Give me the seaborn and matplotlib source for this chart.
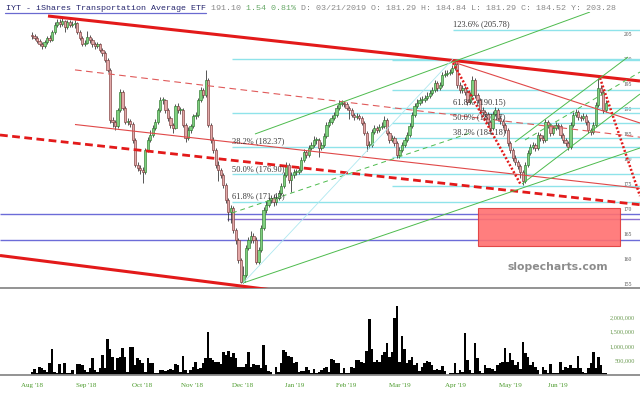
import numpy as np
import matplotlib
matplotlib.use("Agg")
import matplotlib.pyplot as plt
import seaborn as sns
from matplotlib.lines import Line2D
from matplotlib.patches import Rectangle

# ---------------- data ----------------
first_open = 204.8
closes = [
    204.6, 204.2, 203.6, 203.0, 202.6, 203.4, 204.2, 203.8, 205.4, 206.8,
    207.4, 207.0, 207.6, 206.4, 207.4, 206.8, 207.0, 207.2, 205.4, 204.2,
    203.0, 203.2, 204.4, 203.8, 203.0, 202.6, 203.0, 201.8, 201.2, 199.8,
    197.8, 187.8, 187.4, 186.6, 189.8, 193.4, 190.2, 187.4, 187.6, 187.0,
    183.8, 178.8, 178.2, 177.8, 177.4, 181.8, 183.8, 184.8, 186.2, 187.4,
    189.8, 191.8, 191.8, 189.8, 188.2, 186.8, 186.2, 190.6, 189.8, 189.8,
    186.8, 184.2, 185.8, 186.6, 188.6, 188.8, 191.8, 193.8, 192.8, 195.8,
    186.8, 183.8, 181.8, 178.8, 177.8, 176.8, 174.8, 171.8, 169.4, 170.2,
    165.8, 163.8, 159.8, 155.4, 156.8, 162.2, 163.8, 164.6, 163.8, 159.4,
    161.8, 166.2, 169.8, 170.8, 171.8, 172.2, 171.4, 172.2, 173.2, 174.6,
    176.8, 178.8, 175.8, 176.8, 177.4, 177.4, 177.8, 179.8, 181.4, 180.8,
    182.2, 182.8, 183.8, 183.8, 182.2, 182.8, 184.6, 186.8, 187.4, 188.2,
    188.8, 190.2, 191.0, 191.2, 191.0, 190.2, 189.8, 188.8, 188.4, 188.6,
    188.2, 187.2, 185.2, 182.8, 182.8, 185.4, 186.2, 185.8, 186.4, 186.6,
    187.8, 185.2, 183.8, 184.2, 183.2, 180.8, 181.8, 182.8, 183.8, 184.8,
    186.6, 188.8, 190.6, 191.2, 191.8, 191.8, 192.2, 192.6, 193.2, 193.8,
    195.2, 194.2, 194.8, 196.8, 197.0, 197.2, 197.4, 198.2, 199.0, 194.8,
    193.8, 194.2, 193.4, 191.4, 192.8, 195.8, 192.8, 191.8, 189.8, 189.4,
    189.0, 187.4, 186.2, 189.0, 189.8, 188.2, 187.6, 186.8, 185.8, 183.2,
    181.8, 180.2, 179.4, 178.6, 177.4, 175.6, 178.8, 181.2, 182.4, 182.8,
    182.2, 184.8, 184.2, 183.8, 187.4, 186.8, 185.2, 186.2, 186.8, 186.6,
    184.8, 183.8, 183.2, 182.4, 186.8, 188.8, 189.4, 188.4, 188.2, 188.6,
    187.4, 185.8, 185.4, 186.8, 190.8, 194.2, 193.4, 189.8, 191.1,
]
highs = [
    205.4, 205.0, 204.6, 204.0, 203.4, 203.8, 204.6, 204.8, 205.8, 207.4,
    208.0, 208.0, 208.2, 207.8, 207.8, 207.8, 207.6, 207.8, 207.4, 205.8,
    204.6, 203.8, 205.6, 204.8, 204.2, 203.4, 203.4, 203.2, 202.2, 201.6,
    200.2, 198.2, 188.4, 187.8, 190.2, 194.0, 193.8, 190.6, 188.2, 188.0,
    187.4, 184.2, 179.4, 178.8, 178.4, 182.2, 184.4, 185.8, 186.8, 188.0,
    190.2, 192.4, 192.4, 192.0, 190.2, 188.6, 187.2, 191.0, 191.2, 190.4,
    190.2, 187.2, 186.4, 187.0, 189.0, 189.4, 192.2, 194.4, 194.2, 197.8,
    196.2, 187.2, 184.4, 182.2, 179.6, 178.2, 177.2, 175.2, 172.2, 170.8,
    170.6, 166.2, 164.2, 160.2, 158.6, 162.8, 164.4, 165.6, 165.2, 164.4,
    162.4, 166.8, 170.4, 171.6, 172.4, 172.8, 173.0, 172.8, 173.8, 175.2,
    177.4, 179.4, 179.2, 177.4, 178.0, 178.0, 178.4, 180.4, 182.0, 181.8,
    182.8, 183.4, 184.6, 184.4, 184.2, 183.4, 185.2, 187.4, 188.0, 188.8,
    189.4, 190.8, 191.8, 191.8, 191.6, 191.4, 190.6, 190.2, 189.2, 189.2,
    189.0, 188.6, 187.6, 185.6, 183.6, 186.0, 186.8, 186.6, 187.0, 187.4,
    188.6, 188.2, 185.6, 184.8, 184.6, 183.6, 182.4, 183.4, 184.4, 185.4,
    187.2, 189.4, 191.2, 192.0, 192.4, 192.6, 192.8, 193.4, 193.8, 194.4,
    195.8, 195.6, 195.4, 197.4, 197.8, 197.8, 198.0, 198.8, 199.8, 199.4,
    195.4, 194.8, 194.6, 193.8, 193.4, 196.6, 196.2, 193.2, 192.2, 190.4,
    189.8, 189.4, 187.8, 189.6, 190.4, 190.2, 188.8, 188.0, 187.2, 186.2,
    183.6, 182.2, 180.8, 179.8, 179.0, 177.8, 179.4, 181.8, 183.0, 183.4,
    183.2, 185.4, 185.2, 184.8, 188.0, 187.8, 187.2, 186.8, 187.4, 187.2,
    187.0, 185.2, 184.2, 183.6, 187.4, 189.4, 190.0, 189.8, 188.8, 189.2,
    189.0, 187.8, 186.2, 187.4, 191.4, 196.2, 194.8, 193.8, 191.8,
]
lows = [
    204.0, 203.8, 203.2, 202.6, 202.0, 202.2, 203.0, 203.4, 203.6, 205.0,
    206.4, 206.4, 206.6, 205.4, 206.0, 206.4, 206.4, 206.2, 205.0, 203.8,
    202.6, 202.6, 203.0, 203.2, 202.4, 202.0, 202.2, 201.4, 200.6, 199.4,
    197.4, 187.2, 186.4, 185.8, 186.2, 189.4, 189.8, 187.0, 186.8, 186.4,
    183.2, 178.4, 177.6, 177.0, 175.2, 177.0, 181.4, 183.4, 184.4, 185.8,
    187.0, 189.4, 191.0, 189.2, 187.6, 186.2, 185.2, 186.0, 189.2, 189.0,
    186.4, 183.4, 183.8, 185.2, 186.2, 188.0, 188.4, 191.4, 192.2, 192.4,
    186.4, 183.2, 181.2, 178.2, 175.6, 176.2, 174.2, 171.2, 167.6, 167.2,
    165.2, 163.0, 159.2, 155.2, 155.2, 156.4, 161.8, 163.2, 163.2, 159.0,
    159.0, 161.4, 165.8, 169.2, 170.4, 171.2, 170.6, 170.8, 171.8, 172.8,
    174.2, 176.4, 175.2, 173.4, 176.2, 176.8, 177.0, 177.4, 179.4, 180.2,
    180.4, 181.8, 182.4, 183.0, 180.4, 181.8, 182.4, 184.2, 186.4, 187.0,
    187.8, 188.4, 189.8, 190.6, 190.4, 189.8, 188.0, 188.4, 187.8, 188.0,
    187.8, 186.8, 184.8, 181.6, 182.2, 182.4, 185.0, 185.2, 185.4, 186.0,
    186.2, 184.8, 183.2, 183.4, 182.6, 180.2, 180.2, 181.4, 182.4, 183.4,
    184.4, 186.2, 188.4, 190.2, 190.8, 191.2, 191.4, 191.8, 192.2, 192.8,
    193.4, 193.6, 193.8, 194.4, 196.4, 196.6, 196.8, 197.0, 197.8, 194.2,
    193.2, 193.2, 192.8, 190.8, 191.0, 192.4, 192.2, 191.2, 189.2, 188.8,
    188.4, 186.8, 185.4, 185.8, 188.6, 187.6, 187.0, 186.2, 185.2, 182.6,
    181.2, 179.6, 178.8, 178.0, 176.2, 174.8, 175.2, 178.4, 180.8, 182.0,
    181.6, 181.8, 183.6, 183.2, 183.4, 186.2, 184.6, 184.8, 185.8, 186.0,
    184.2, 183.2, 182.6, 181.8, 182.0, 186.4, 188.4, 187.8, 187.6, 187.8,
    186.8, 185.2, 184.8, 185.0, 186.4, 190.4, 192.8, 189.2, 189.4,
]
volumes_k = [
    115, 195, 80, 290, 230, 170, 115, 400, 885, 115,
    60, 380, 80, 400, 60, 60, 170, 0, 380, 380,
    345, 170, 115, 230, 600, 170, 115, 230, 690, 230,
    1230, 885, 630, 170, 575, 630, 920, 630, 115, 980,
    980, 345, 575, 520, 400, 115, 575, 400, 400, 80,
    60, 170, 170, 150, 170, 195, 170, 380, 345, 115,
    670, 170, 80, 170, 265, 460, 195, 230, 400, 575,
    1470, 600, 520, 460, 460, 370, 805, 690, 830, 630,
    750, 575, 265, 265, 265, 380, 805, 265, 380, 345,
    345, 230, 1030, 345, 150, 115, 0, 265, 115, 400,
    865, 805, 655, 630, 400, 460, 115, 150, 150, 265,
    170, 80, 195, 80, 115, 170, 230, 290, 115, 540,
    520, 400, 400, 60, 230, 60, 60, 265, 230, 520,
    520, 460, 400, 840, 1920, 900, 460, 520, 460, 690,
    805, 1120, 630, 805, 1950, 2380, 460, 1360, 885, 400,
    520, 630, 345, 400, 150, 290, 400, 490, 460, 345,
    170, 195, 170, 310, 150, 0, 60, 60, 400, 80,
    170, 115, 1440, 520, 170, 60, 1120, 575, 150, 80,
    345, 230, 230, 195, 150, 345, 400, 460, 920, 460,
    750, 520, 345, 460, 195, 1150, 750, 630, 345, 460,
    290, 170, 0, 265, 170, 80, 380, 60, 80, 80,
    460, 170, 290, 230, 345, 230, 230, 670, 230, 115,
    60, 230, 400, 805, 230, 630, 345, 80, 80,
]
month_labels = ["Aug '18", "Sep '18", "Oct '18", "Nov '18", "Dec '18", "Jan '19",
                "Feb '19", "Mar '19", "Apr '19", "May '19", "Jun '19"]
month_pos = [0, 21.5, 43.7, 63.6, 83.8, 104.5, 124.8, 146.2, 168.1, 190.0, 209.0]
price_ticks = [155, 160, 165, 170, 175, 180, 185, 190, 195, 200, 205]
vol_ticks = [500000, 1000000, 1500000, 2000000]

# Fibonacci retracement levels (price) and their labels
fib1_levels = [200.08, 189.14, 182.37, 176.90, 171.43]
fib1_labels = {182.37: "38.2% (182.37)", 176.90: "50.0% (176.90)", 171.43: "61.8% (171.43)"}
fib2_levels = [174.52, 180.49, 184.18, 187.17, 190.15, 193.84, 199.81]
fib2_labels = {184.18: "38.2% (184.18)", 187.17: "50.0% (187.17)", 190.15: "61.8% (190.15)"}
fib2_ext = 205.78
support_levels = [169.0, 168.0, 163.8]

title_name = "IYT - iShares Transportation Average ETF"
title_last = " 191.10 "
title_chg = "1.54 0.81%"
title_rest = " D: 03/21/2019 O: 181.29 H: 184.84 L: 181.29 C: 184.52 Y: 203.28"

n = len(closes)
assert len(highs) == n and len(lows) == n and len(volumes_k) == n
idx = np.arange(n)
opens = [first_open] + closes[:-1]
volumes = [v * 1000 for v in volumes_k]

# ---------------- figure ----------------
sns.set_theme(style="white")
plt.rcParams["font.family"] = ["Liberation Serif", "DejaVu Serif"]

W, H = 640, 397
fig = plt.figure(figsize=(6.4, 3.97), dpi=100)
fig.patch.set_facecolor("white")
ax = fig.add_axes([0, (H - 288) / H, 1, 276 / H])
axv = fig.add_axes([0, (H - 375) / H, 1, 85 / H])

XMIN, XMAX = -12.71, 241.56
for a in (ax, axv):
    a.set_facecolor("white")
    for s in ("top", "left", "right"):
        a.spines[s].set_visible(False)
    a.spines["bottom"].set_color("#8a8a8a")
    a.spines["bottom"].set_linewidth(1.3)

# ---------- horizontal levels ----------
def hline(price, x0, color, lw, z=1.5):
    ax.plot([x0, XMAX], [price, price], color=color, lw=lw, zorder=z,
            solid_capstyle="butt")

cyan = "#8fe3ea"
for p in fib1_levels:
    hline(p, 79.5, cyan, 1.0)
for p in fib2_levels:
    hline(p, 143.0, cyan, 1.0)
hline(fib2_ext, 167.3, cyan, 1.0)
hline(support_levels[0], XMIN, "#6c6cd8", 1.0)
hline(support_levels[1], 77.5, "#8a70d0", 1.0)
hline(support_levels[2], XMIN, "#6c6cd8", 1.0)

# red zone rectangle
ax.add_patch(Rectangle((177.2, 162.6), 56.4, 7.6, facecolor="#ff7070",
                       edgecolor="#e03a3a", lw=0.8, alpha=0.9, zorder=1.8))

# ---------- trendlines ----------
red = "#e31a1a"
lines = [
    ((6.36, 208.6), (241.56, 195.6), red, 2.2, None),
    ((-12.71, 160.7), (106.48, 153.1), red, 2.2, None),
    ((-12.71, 184.8), (241.56, 170.86), red, 2.0, (2.8, 1.6)),
    ((17.08, 197.82), (241.56, 184.36), "#e05a5a", 0.8, (6, 4)),
    ((17.08, 186.9), (241.56, 174.14), "#e04848", 0.8, None),
    ((167.26, 199.4), (241.56, 187.2), "#e04848", 0.8, None),
    ((167.26, 199.2), (194.28, 174.8), red, 1.8, (0.8, 0.8)),
    ((225.67, 196.2), (241.56, 172.6), red, 1.8, (0.8, 0.8)),
    ((83.83, 155.2), (241.56, 182.2), "#4dbb4d", 0.7, None),
    ((88.6, 185.0), (221.69, 209.4), "#4dbb4d", 0.7, None),
    ((79.46, 169.2), (174.02, 185.2), "#4dbb4d", 0.7, (5, 4)),
    ((195.87, 183.8), (241.56, 197.4), "#4dbb4d", 0.7, (5, 4)),
    ((191.89, 183.4), (236.79, 200.4), "#4dbb4d", 0.7, None),
    ((194.68, 175.0), (241.56, 193.0), "#4dbb4d", 0.7, None),
    ((83.83, 155.2), (167.26, 200.0), "#aee8f0", 0.6, None),
]
for (x0, p0), (x1, p1), c, lw, d in lines:
    ln, = ax.plot([x0, x1], [p0, p1], color=c, lw=lw, zorder=3,
                  solid_capstyle="butt", dash_capstyle="butt")
    if d is not None:
        ln.set_dashes(d)

# ---------- candles ----------
o = np.array(opens)
c = np.array(closes)
hi = np.array(highs)
lo = np.array(lows)
up = c >= o
ax.vlines(idx, lo, hi, color="#3a3a3a", lw=0.6, zorder=2)
body_bot = np.minimum(o, c)
body_h = np.maximum(np.abs(c - o), 0.15)
ax.bar(idx[up], body_h[up], bottom=body_bot[up], width=0.9,
       color="#7fd07f", edgecolor="#2f7a2f", lw=0.45, zorder=2.5)
ax.bar(idx[~up], body_h[~up], bottom=body_bot[~up], width=0.9,
       color="#e3a8a8", edgecolor="#7a3a3a", lw=0.45, zorder=2.5)

# fib labels
for p, t in fib1_labels.items():
    ax.text(79.5, p + 0.35, t, fontsize=6, color="#3a3a3a", va="bottom",
            ha="left", zorder=4)
for p, t in fib2_labels.items():
    ax.text(167.3, p + 0.35, t, fontsize=6, color="#3a3a3a", va="bottom",
            ha="left", zorder=4)
ax.text(167.3, fib2_ext + 0.35, "123.6% (205.78)", fontsize=6, color="#3a3a3a",
        va="bottom", ha="left", zorder=4)

ax.set_xlim(XMIN, XMAX)
ax.set_ylim(154.2, 209.4)
ax.set_xticks([])
ax.yaxis.tick_right()
ax.set_yticks(price_ticks)
ax.set_yticklabels([str(t) for t in price_ticks])
ax.tick_params(axis="y", length=0, pad=-12, labelsize=4, labelcolor="#555555")
ax.grid(False)

# ---------- volume ----------
sns.barplot(x=idx, y=volumes, native_scale=True, color="black", saturation=1,
            width=1.0, linewidth=0, ax=axv)
axv.set_xlim(XMIN, XMAX)
axv.set_ylim(0, 2.93e6)
axv.set_xlabel("")
axv.set_ylabel("")
axv.yaxis.tick_right()
axv.set_yticks(vol_ticks)
axv.set_yticklabels([f"{v:,}" for v in vol_ticks])
for lab in axv.get_yticklabels():
    lab.set_horizontalalignment("right")
axv.tick_params(axis="y", length=0, pad=-3.6, labelsize=4.5, labelcolor="#6a9a50")
axv.set_xticks(month_pos)
axv.set_xticklabels(month_labels)
axv.tick_params(axis="x", length=0, pad=5.5, labelsize=5, labelcolor="#4a9a2a")
axv.grid(False)

# ---------- title ----------
mono = ["Liberation Mono", "DejaVu Sans Mono"]
t1 = fig.text(6 / W, 1 - 10 / H, title_name, fontsize=6, family=mono,
              color="#26266e", va="baseline", ha="left")
t2 = fig.text(0, 0, title_last, fontsize=6, family=mono, color="#8a8a8a",
              va="baseline", ha="left")
t3 = fig.text(0, 0, title_chg, fontsize=6, family=mono, color="#6aaa6a",
              va="baseline", ha="left")
t4 = fig.text(0, 0, title_rest, fontsize=6, family=mono, color="#8a8a8a",
              va="baseline", ha="left")
fig.canvas.draw()
r = fig.canvas.get_renderer()
x = t1.get_window_extent(r).x1
for t in (t2, t3, t4):
    t.set_position((x / W, 1 - 10 / H))
    fig.canvas.draw()
    x = t.get_window_extent(r).x1
x_end = t1.get_window_extent(r).x1
fig.add_artist(Line2D([5 / W, x_end / W], [1 - 12.5 / H, 1 - 12.5 / H],
                      color="#6a6ad0", lw=0.9))

# watermark
fig.text(558 / W, 1 - 267 / H, "slopecharts.com", fontsize=7.8, weight="bold",
         family="DejaVu Sans", color="#8c8c8c", ha="center", va="center")

fig.savefig("out.png", dpi=100)
